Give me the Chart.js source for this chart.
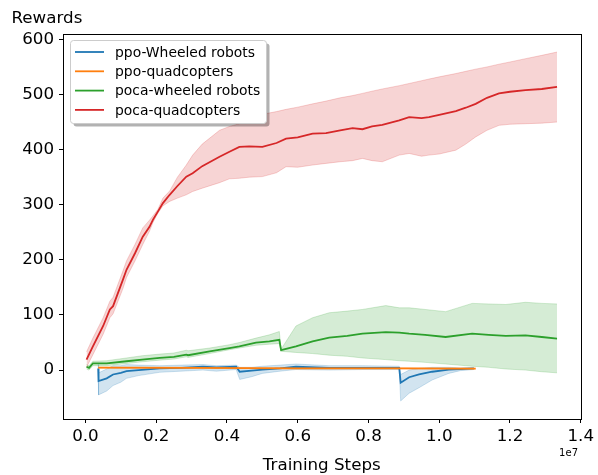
<!DOCTYPE html>
<html>
<head>
<meta charset="utf-8">
<script src="https://cdn.jsdelivr.net/npm/chart.js@4.4.0/dist/chart.umd.min.js"></script>
<style>body{margin:0;background:#fff}</style>
</head>
<body>
<canvas id="rewardsChart" width="598" height="475"></canvas>
<script>
// x values are training steps in units of 1e7
const xTicks = [0, 0.2, 0.4, 0.6, 0.8, 1.0, 1.2, 1.4];
const yTicks = [0, 100, 200, 300, 400, 500, 600];
const seriesNames = ['ppo-Wheeled robots', 'ppo-quadcopters', 'poca-wheeled robots', 'poca-quadcopters'];
const seriesColors = ['#1f77b4', '#ff7f0e', '#2ca02c', '#d62728'];
const bandColors = ['rgba(31,119,180,0.2)', 'rgba(255,127,14,0.2)', 'rgba(44,160,44,0.2)', 'rgba(214,39,40,0.2)'];

// ppo-Wheeled robots
const ppoWheelX = [0.036, 0.037, 0.06, 0.078, 0.10, 0.116, 0.15, 0.21, 0.27, 0.332, 0.37, 0.426, 0.436, 0.47, 0.50, 0.55, 0.595, 0.689, 0.783, 0.887, 0.891, 0.915, 0.943, 0.98, 1.027, 1.06, 1.098];
const ppoWheelMean = [3, -20, -15, -8, -5, -2, 0, 3, 4, 6, 5, 6, -3, -1, 1, 3, 6, 4, 4, 4, -23, -13, -8, -3, 1, 2, 3];
const ppoWheelLow = [0, -45, -38, -28, -22, -15, -10, -4, -2, 0, -2, 1, -17, -12, -6, -2, 1, 0, 1, 1, -56, -42, -32, -18, -6, -1, 1];
const ppoWheelHigh = [10, -5, 2, 8, 8, 10, 9, 8, 9, 10, 8, 9, 5, 5, 7, 9, 11, 8, 8, 7, -8, 0, 3, 5, 5, 4, 4];

// ppo-quadcopters
const ppoQuadX = [0.036, 0.3, 0.6, 0.9, 1.103];
const ppoQuadMean = [4.5, 4, 3, 3, 2.5];
const ppoQuadLow = [3.5, 3, 2, 2, 1.5];
const ppoQuadHigh = [5.5, 5, 4, 4, 3.5];

// poca-wheeled robots
const pocaWheelX = [0.003, 0.01, 0.021, 0.06, 0.116, 0.16, 0.21, 0.25, 0.285, 0.29, 0.351, 0.407, 0.435, 0.482, 0.52, 0.548, 0.553, 0.595, 0.642, 0.689, 0.74, 0.783, 0.849, 0.887, 0.915, 0.96, 1.018, 1.093, 1.14, 1.188, 1.244, 1.29, 1.333];
const pocaWheelMean = [6, 4, 12, 12, 16, 19, 22, 24, 28, 27, 34, 40, 43, 50, 52, 55, 36, 43, 52, 59, 62, 66, 69, 68, 66, 64, 60, 66, 64, 62, 63, 60, 57];
const pocaWheelLow = [2, 0, 8, 8, 12, 15, 18, 20, 24, 23, 30, 37, 40, 45, 47, 48, 34, 32, 30, 27, 25, 22, 19, 17, 16, 14, 11, 7, 5, 2, 0, -3, -5];
const pocaWheelHigh = [10, 8, 16, 17, 22, 26, 29, 31, 36, 35, 40, 46, 50, 58, 64, 70, 38, 80, 95, 104, 107, 110, 117, 113, 113, 110, 106, 121, 120, 119, 123, 121, 120];

// poca-quadcopters
const pocaQuadX = [0.003, 0.021, 0.05, 0.069, 0.078, 0.106, 0.116, 0.14, 0.162, 0.181, 0.191, 0.205, 0.219, 0.238, 0.26, 0.285, 0.303, 0.33, 0.379, 0.407, 0.435, 0.463, 0.5, 0.54, 0.567, 0.6, 0.642, 0.68, 0.72, 0.755, 0.783, 0.81, 0.839, 0.887, 0.915, 0.95, 0.971, 1.0, 1.047, 1.075, 1.103, 1.135, 1.169, 1.2, 1.244, 1.29, 1.333];
const pocaQuadMean = [19, 43, 80, 110, 116, 164, 182, 212, 242, 260, 273, 288, 303, 318, 334, 351, 357, 370, 387, 396, 405, 406, 405, 412, 420, 422, 429, 430, 435, 439, 437, 442, 445, 453, 459, 457, 459, 463, 470, 476, 483, 494, 502, 505, 508, 510, 514];
const pocaQuadLow = [5, 28, 65, 95, 102, 148, 168, 198, 228, 252, 268, 285, 298, 306, 312, 318, 324, 330, 340, 347, 348, 350, 351, 358, 369, 368, 372, 375, 378, 380, 384, 380, 378, 390, 393, 388, 390, 392, 399, 410, 423, 435, 444, 446, 447, 448, 450];
const pocaQuadHigh = [33, 58, 95, 125, 132, 180, 198, 228, 258, 272, 280, 292, 312, 325, 350, 372, 390, 410, 435, 442, 447, 459, 464, 469, 473, 477, 483, 488, 494, 498, 502, 506, 510, 516, 520, 525, 528, 532, 538, 542, 546, 550, 555, 559, 565, 571, 577];

const font = 'DejaVu Sans';
const pts = (xs, ys) => xs.map((x, i) => ({ x: x, y: ys[i] }));

const series = [
  [ppoWheelX, ppoWheelMean, ppoWheelLow, ppoWheelHigh],
  [ppoQuadX, ppoQuadMean, ppoQuadLow, ppoQuadHigh],
  [pocaWheelX, pocaWheelMean, pocaWheelLow, pocaWheelHigh],
  [pocaQuadX, pocaQuadMean, pocaQuadLow, pocaQuadHigh]
];

const datasets = [];
series.forEach((s, k) => {
  const base = (3 - k) * 3;
  datasets.push({
    label: seriesNames[k] + ' low', data: pts(s[0], s[2]),
    borderColor: bandColors[k], borderWidth: 1, pointRadius: 0, fill: false, order: base + 1
  });
  datasets.push({
    label: seriesNames[k] + ' high', data: pts(s[0], s[3]),
    borderColor: bandColors[k], borderWidth: 1, pointRadius: 0,
    fill: '-1', backgroundColor: bandColors[k], order: base + 1
  });
  datasets.push({
    label: seriesNames[k], data: pts(s[0], s[1]),
    borderColor: seriesColors[k], borderWidth: 1.8, pointRadius: 0, fill: false, order: base
  });
});

// spines, axis labels, offset text and matplotlib-like legend
const decorations = {
  id: 'decorations',
  afterDraw(chart) {
    const ctx = chart.ctx;
    const a = chart.chartArea;
    ctx.save();
    ctx.strokeStyle = '#000';
    ctx.lineWidth = 1;
    ctx.strokeRect(Math.round(a.left) + 0.5, Math.round(a.top) + 0.5, Math.round(a.right - a.left), Math.round(a.bottom - a.top));

    ctx.fillStyle = '#000';
    ctx.font = '16.7px "' + font + '"';
    ctx.textBaseline = 'alphabetic';
    ctx.textAlign = 'left';
    ctx.fillText('Rewards', 11.5, 22.5);
    ctx.textAlign = 'center';
    ctx.fillText('Training Steps', (a.left + a.right) / 2, 470);
    ctx.font = '10px "' + font + '"';
    ctx.textAlign = 'right';
    ctx.fillText('1e7', 578, 456);

    // legend
    const lx = 70.5, ly = 40.5, lw = 196, lh = 83;
    ctx.fillStyle = 'rgba(0,0,0,0.3)';
    ctx.beginPath();
    ctx.roundRect(lx + 3, ly + 3, lw, lh, 3);
    ctx.fill();
    ctx.fillStyle = '#fff';
    ctx.strokeStyle = '#cccccc';
    ctx.beginPath();
    ctx.roundRect(lx, ly, lw, lh, 3);
    ctx.fill();
    ctx.stroke();
    ctx.font = '13.9px "' + font + '"';
    ctx.textAlign = 'left';
    ctx.textBaseline = 'middle';
    seriesNames.forEach((name, i) => {
      const y = 52 + i * 19.3;
      ctx.strokeStyle = seriesColors[i];
      ctx.lineWidth = 1.8;
      ctx.beginPath();
      ctx.moveTo(75, y);
      ctx.lineTo(104, y);
      ctx.stroke();
      ctx.fillStyle = '#000';
      ctx.fillText(name, 115, y + 1);
    });
    ctx.restore();
  }
};

new Chart(document.getElementById('rewardsChart').getContext('2d'), {
  type: 'line',
  data: { datasets: datasets },
  plugins: [decorations],
  options: {
    responsive: false,
    animation: false,
    layout: { padding: { left: 0, right: 16, top: 34, bottom: 0 } },
    plugins: { legend: { display: false }, tooltip: { enabled: false } },
    scales: {
      x: {
        type: 'linear', min: -0.0635, max: 1.3995,
        afterBuildTicks: s => { s.ticks = xTicks.map(v => ({ value: v })); },
        afterFit: s => { s.height = 56; },
        grid: { drawOnChartArea: false, color: '#000', tickLength: 4 },
        border: { display: false },
        ticks: { color: '#000', font: { family: font, size: 16.7 }, padding: 4, maxRotation: 0, callback: v => v.toFixed(1) }
      },
      y: {
        min: -88.75, max: 609.75,
        afterBuildTicks: s => { s.ticks = yTicks.map(v => ({ value: v })); },
        afterFit: s => { s.width = 63; },
        grid: { drawOnChartArea: false, color: '#000', tickLength: 4 },
        border: { display: false },
        ticks: { color: '#000', font: { family: font, size: 16.7 }, padding: 5, callback: v => String(v) }
      }
    }
  }
});
</script>
</body>
</html>
